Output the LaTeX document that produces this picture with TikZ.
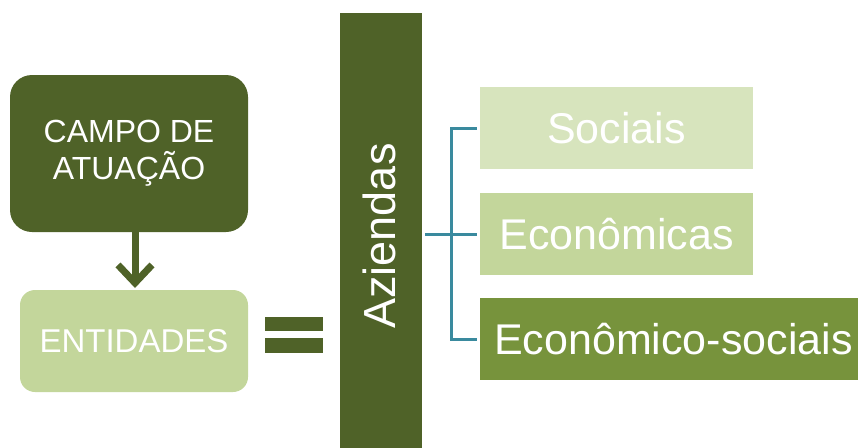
\documentclass[tikz,border=0pt]{standalone}
\usepackage{fontspec}
\setmainfont{Liberation Sans}
\usetikzlibrary{arrows.meta}
\definecolor{darkolive}{HTML}{4F6228}
\definecolor{palegreen}{HTML}{D7E4BD}
\definecolor{midgreen}{HTML}{C3D69B}
\definecolor{olivegreen}{HTML}{77933C}
\definecolor{tealline}{HTML}{3A8A9E}
\tikzset{
  box/.style={draw=none, inner sep=0pt, text=white, align=center},
  link/.style={draw=tealline, line width=3pt},
}
\begin{document}
\begin{tikzpicture}[x=1pt,y=-1pt]
\useasboundingbox (0,0) rectangle (858,447);
% left column
\node[box, fill=darkolive, rounded corners=22pt, minimum width=238pt, minimum height=157pt,
      font=\fontsize{32}{37}\selectfont] (camp) at (129,153.5) {CAMPO DE\\ATUAÇÃO};
\node[box, fill=midgreen, rounded corners=15pt, minimum width=228pt, minimum height=102pt,
      font=\fontsize{33}{38}\selectfont] (ent) at (134,341) {ENTIDADES};
\draw[draw=darkolive, line width=7pt, -{Straight Barb[length=18pt,width=34pt]}]
  (camp.south -| 135,0) -- (135,288) coordinate (tip);
% equals sign
\fill[darkolive] (265,317) rectangle (323,331);
\fill[darkolive] (265,338) rectangle (323,353);
% Aziendas bar
\node[box, fill=darkolive, minimum width=82pt, minimum height=440pt] (az) at (381,233) {};
\node[text=white, rotate=90, font=\fontsize{45}{50}\selectfont, inner sep=0pt] (azt) at (379,236) {Aziendas};
% right boxes
\node[box, fill=palegreen, minimum width=273pt, minimum height=82pt,
      font=\fontsize{43}{48}\selectfont] (soc) at (616.5,128) {Sociais};
\node[box, fill=midgreen, minimum width=273pt, minimum height=82pt,
      font=\fontsize{43}{48}\selectfont] (eco) at (616.5,234) {Econômicas};
\node[box, fill=olivegreen, minimum width=378pt, minimum height=82pt] (ecs) at (669,339) {};
\node[anchor=west, text=white, inner sep=0pt, font=\fontsize{43}{48}\selectfont] (ecst) at (494,339) {Econômico-sociais};
% connectors
\coordinate (br) at (451,234);
\draw[link] ([xshift=3pt]az.east |- eco.west) -- ([xshift=-3pt]eco.west);
\draw[link] ([xshift=-3pt]soc.west) -- (br |- soc.west) -- (br |- ecs.west) -- ([xshift=-3pt]ecs.west);
\end{tikzpicture}
\end{document}
